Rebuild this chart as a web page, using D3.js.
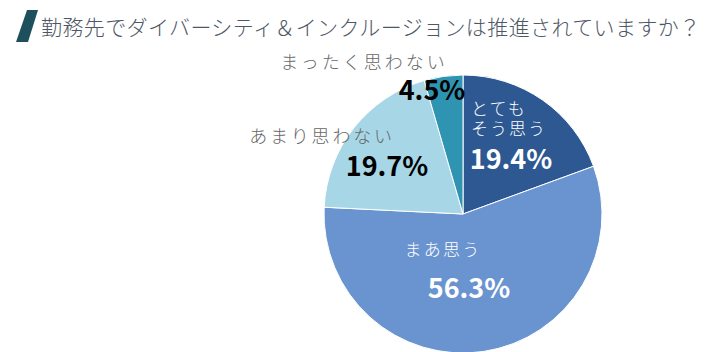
<!DOCTYPE html>
<html>
<head>
<meta charset="utf-8">
<script src="https://cdn.jsdelivr.net/npm/d3@7"></script>
<style>
  body { margin: 0; background: #fff; }
  svg { display: block; font-family: "Noto Sans CJK JP", "Noto Sans", sans-serif; }
</style>
</head>
<body>
<div id="chart"></div>
<script>
// data
const categories = ['とてもそう思う', 'まあ思う', 'あまり思わない', 'まったく思わない'];
const values = [19.4, 56.3, 19.7, 4.5];
const colors = ['#2d5891', '#6a94d0', '#a7d7e7', '#2e94b1'];
const title = '勤務先でダイバーシティ＆インクルージョンは推進されていますか？';

const width = 720, height = 352;
const cx = 463, cy = 214, radius = 139;

const svg = d3.select('#chart').append('svg')
    .attr('width', width)
    .attr('height', height);

// title mark (slanted bar)
svg.append('path')
    .attr('d', 'M27,10 L38,10 L28,42 L16,42 Z')
    .attr('fill', '#1d4f5c');

svg.append('text')
    .attr('x', 41)
    .attr('y', 35)
    .attr('font-size', 21)
    .attr('font-weight', 300)
    .attr('fill', '#4e5766')
    .attr('letter-spacing', 0.4)
    .text(title);

const pie = d3.pie().sort(null).value(d => d.value);
const arc = d3.arc().innerRadius(0).outerRadius(radius);

const data = categories.map((c, i) => ({ name: c, value: values[i], color: colors[i] }));

const g = svg.append('g')
    .attr('transform', `translate(${cx},${cy})`);

g.selectAll('path')
    .data(pie(data))
    .join('path')
    .attr('d', arc)
    .attr('fill', d => d.data.color)
    .attr('stroke', '#fff')
    .attr('stroke-width', 1);

// labels: name lines + percent, positions relative to pie center
const labels = [
    { lines: ['とても', 'そう思う'], lx: 8, ly: -99, px: 48, py: -45, anchor: 'start', fs: 17, ls: 2, nameColor: '#fff', pctColor: '#fff' },
    { lines: ['まあ思う'], lx: -20, ly: 42, px: 6, py: 84, anchor: 'middle', fs: 17, ls: 2.2, nameColor: '#fff', pctColor: '#fff' },
    { lines: ['あまり思わない'], lx: -141, ly: -71, px: -76, py: -38, anchor: 'middle', fs: 18, ls: 2.8, nameColor: '#666', pctColor: '#000' },
    { lines: ['まったく思わない'], lx: -99, ly: -145, px: -31, py: -114, anchor: 'middle', fs: 18, ls: 3, nameColor: '#666', pctColor: '#000' }
];

labels.forEach((l, i) => {
    const t = g.append('text')
        .attr('y', l.ly)
        .attr('text-anchor', l.anchor)
        .attr('font-size', l.fs)
        .attr('font-weight', 300)
        .attr('letter-spacing', l.ls)
        .attr('fill', l.nameColor);
    t.selectAll('tspan')
        .data(l.lines)
        .join('tspan')
        .attr('x', l.lx)
        .attr('dy', (d, j) => j === 0 ? 0 : 20)
        .text(d => d);
    g.append('text')
        .attr('x', l.px)
        .attr('y', l.py)
        .attr('text-anchor', 'middle')
        .attr('font-size', 27)
        .attr('font-weight', 'bold')
        .attr('fill', l.pctColor)
        .text(d3.format('.1f')(values[i]) + '%');
});
</script>
</body>
</html>
